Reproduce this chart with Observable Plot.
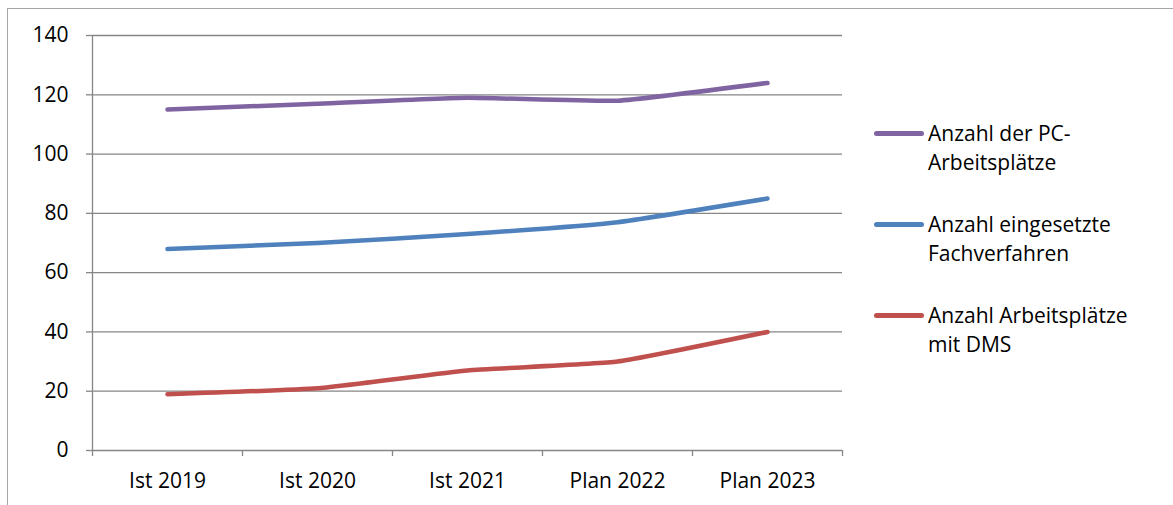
<!DOCTYPE html>
<html>
<head>
<meta charset="utf-8">
<script src="https://cdn.jsdelivr.net/npm/d3@7"></script>
<script src="https://cdn.jsdelivr.net/npm/@observablehq/plot@0.6"></script>
<style>
  html, body { margin: 0; padding: 0; background: #fff; overflow: hidden; }
  #wrap { position: relative; width: 1173px; height: 505px; font-family: "Open Sans", sans-serif; }
  #frame { position: absolute; left: 7px; top: 8px; width: 1300px; height: 700px; border: 1.5px solid #a6a6a6; box-sizing: border-box; pointer-events: none; }
  #chart { position: absolute; left: 0; top: 0; }
  #legend { position: absolute; left: 874px; top: 119px; }
  .entry { display: flex; align-items: flex-start; margin-bottom: 33px; }
  .swatch { width: 50px; height: 4.5px; border-radius: 3px; margin-top: 12px; flex: none; }
  .label { margin-left: 4px; font-size: 21px; line-height: 29px; color: #000; }
</style>
</head>
<body>
<div id="wrap">
  <div id="frame"></div>
  <div id="chart"></div>
  <div id="legend"></div>
</div>
<script>
const categories = ["Ist 2019", "Ist 2020", "Ist 2021", "Plan 2022", "Plan 2023"];
const seriesNames = ["Anzahl der PC-Arbeitsplätze", "Anzahl eingesetzte Fachverfahren", "Anzahl Arbeitsplätze mit DMS"];
const legendLines = [["Anzahl der PC-", "Arbeitsplätze"], ["Anzahl eingesetzte", "Fachverfahren"], ["Anzahl Arbeitsplätze", "mit DMS"]];
const pcArbeitsplaetze = [115, 117, 119, 118, 124];
const fachverfahren = [68, 70, 73, 77, 85];
const dmsArbeitsplaetze = [19, 21, 27, 30, 40];
const seriesColors = ["#8064A2", "#4F81BD", "#C0504D"];
const yTicks = [0, 20, 40, 60, 80, 100, 120, 140];

const seriesValues = [pcArbeitsplaetze, fachverfahren, dmsArbeitsplaetze];
const rows = [];
seriesValues.forEach((vals, s) => vals.forEach((v, i) => rows.push({i, value: v, series: seriesNames[s]})));
const idx = categories.map((_, i) => i);
const bounds = d3.range(categories.length + 1).map(k => k - 0.5);
const gray = "#868686";

const chart = Plot.plot({
  width: 1173,
  height: 505,
  marginLeft: 92,
  marginRight: 331,
  marginTop: 35,
  marginBottom: 55,
  style: {fontFamily: "'Open Sans', sans-serif", background: "transparent"},
  x: {type: "linear", domain: [-0.5, categories.length - 0.5]},
  y: {domain: [0, 140]},
  color: {domain: seriesNames, range: seriesColors},
  marks: [
    Plot.gridY(yTicks, {stroke: gray, strokeOpacity: 1, strokeWidth: 1.3}),
    Plot.ruleX([bounds[0]], {y1: 0, y2: 140, stroke: gray, strokeWidth: 1.3}),
    Plot.axisY(yTicks, {tickSize: 6, tickPadding: 18, fontSize: 21, stroke: gray, strokeWidth: 1.3, fill: "#000", label: null}),
    Plot.axisX(bounds, {tickSize: 6, tickFormat: () => "", stroke: gray, strokeWidth: 1.3, label: null}),
    Plot.axisX(idx, {tickSize: 0, tickPadding: 23, fontSize: 21, fill: "#000", tickFormat: i => categories[i], label: null}),
    Plot.line(rows, {x: "i", y: "value", z: "series", stroke: "series", strokeWidth: 4.5, strokeLinecap: "round", strokeLinejoin: "round", curve: "cardinal", tension: 0.6})
  ]
});
document.getElementById("chart").appendChild(chart);

const legend = document.getElementById("legend");
seriesNames.forEach((name, s) => {
  const e = document.createElement("div");
  e.className = "entry";
  const sw = document.createElement("div");
  sw.className = "swatch";
  sw.style.background = seriesColors[s];
  const lb = document.createElement("div");
  lb.className = "label";
  lb.innerHTML = legendLines[s].join("<br>");
  e.appendChild(sw); e.appendChild(lb);
  legend.appendChild(e);
});
</script>
</body>
</html>
